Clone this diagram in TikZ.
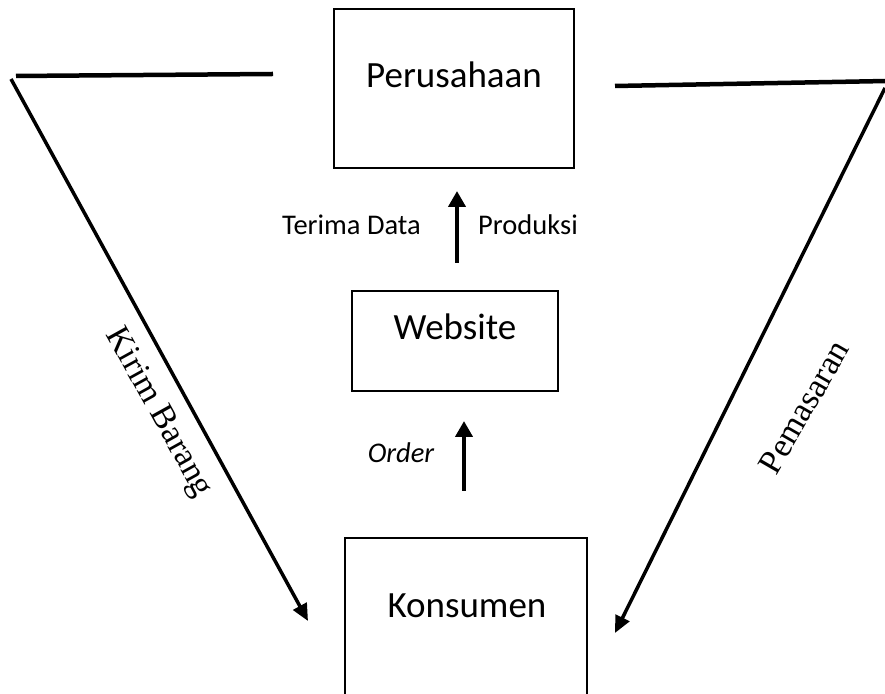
\documentclass[tikz,border=0pt]{standalone}
\usepackage{fontspec}
\setmainfont{Carlito}
\newfontfamily\timesfont{Liberation Serif}
\usetikzlibrary{arrows.meta}
\begin{document}
\begin{tikzpicture}[x=1pt,y=1pt,
  boxnode/.style={draw=black,line width=2.5pt,rectangle,inner sep=0pt},
  boxtext/.style={font=\fontsize{37}{44}\selectfont,anchor=base,inner sep=0pt},
  smalltext/.style={font=\fontsize{28.5}{34}\selectfont,anchor=base,inner sep=0pt},
  sidetext/.style={font=\timesfont\fontsize{34}{40}\selectfont,inner sep=0pt},
  flowarrow/.style={line width=4pt,-{Triangle[width=17pt,length=16pt]}},
  diagarrow/.style={line width=3.5pt,-{Triangle[width=15pt,length=17pt]}},
  hline/.style={line width=4.5pt}]
\useasboundingbox[fill=white] (0,0) rectangle (885,693);
% boxes
\node[boxnode,minimum width=240pt,minimum height=159pt] (perusahaan) at (454,604.5) {};
\node[boxnode,minimum width=206pt,minimum height=100pt] (website) at (455,352) {};
\node[boxnode,minimum width=242pt,minimum height=200pt,anchor=north] (konsumen) at (466,156) {};
% box texts
\node[boxtext] (tPer) at (454,605) {Perusahaan};
\node[boxtext] (tWeb) at (455,353) {Website};
\node[boxtext] (tKon) at (467,76) {Konsumen};
% vertical arrows
\coordinate (prodA) at (457,430);
\coordinate (prodB) at (457,502);
\draw[flowarrow] (prodA) -- (prodB);
\coordinate (ordA) at (464,202);
\coordinate (ordB) at (464,272);
\draw[flowarrow] (ordA) -- (ordB);
\node[smalltext] (terima) at (351.5,458) {Terima Data};
\node[smalltext] (produksi) at (528,458) {Produksi};
\node[smalltext] (order) at (401,230) {\itshape Order};
% left route
\coordinate (lh1) at (273,619);
\coordinate (lh2) at (16,617);
\coordinate (lcorner) at (11,614);
\coordinate (ltip) at (308,72);
\draw[hline] (lh1) -- (lh2);
\draw[diagarrow] (lcorner) -- (ltip);
\node[sidetext,rotate=-61] (kirim) at (158,280) {Kirim Barang};
% right route
\coordinate (rh1) at (615,607);
\coordinate (rh2) at (887,612);
\coordinate (rcorner) at (885,605);
\coordinate (rtip) at (615,60);
\draw[hline] (rh1) -- (rh2);
\draw[diagarrow] (rcorner) -- (rtip);
\node[sidetext,rotate=60] (pemasaran) at (804,286) {Pemasaran};
\end{tikzpicture}
\end{document}
